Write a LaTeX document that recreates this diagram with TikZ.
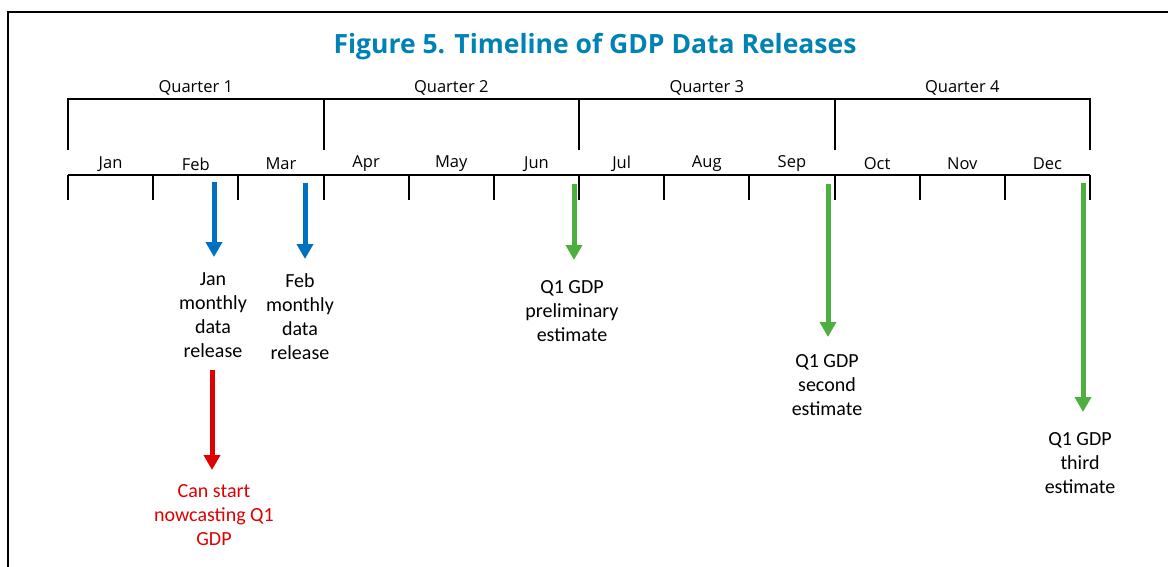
\documentclass[tikz,border=0pt]{standalone}
\usepackage{fontspec}
\setmainfont{Carlito}
\newfontfamily\uifont{Open Sans}
\usetikzlibrary{arrows.meta,positioning}
\definecolor{titleblue}{RGB}{0,130,180}
\definecolor{relblue}{RGB}{0,112,192}
\definecolor{relgreen}{RGB}{76,175,64}
\definecolor{relred}{RGB}{224,0,0}

\begin{document}
\begin{tikzpicture}[x=1pt,y=-1pt,
  tick/.style={line width=2pt},
  mon/.style={font=\uifont\fontsize{16.5}{19}\selectfont, inner sep=0pt},
  note/.style={font=\fontsize{20}{24}\selectfont, align=center, inner sep=0pt, anchor=north},
  rel/.style={line width=5pt, -{Triangle[width=16pt,length=15pt]}}]
\useasboundingbox (0,0) rectangle (1168,567);
\draw[tick] (8,567) -- (8,12) -- (1168,12);
\node[font=\uifont\bfseries\fontsize{26.5}{30}\selectfont, text=titleblue] (title) at (595,47) {Figure 5. Timeline of GDP Data Releases};

% quarters
\draw[tick] (68,150) -- (68,99) -- (1090,99) -- (1090,150);
\foreach \q in {1,2,3} \draw[tick] ({68+255.5*\q},99) -- ++(0,51);
\foreach \q in {1,...,4} \node[mon] (q\q) at ({68+255.5*(\q-0.5)},88) {Quarter \q};

% months
\draw[tick] (68,175) -- (1090,175);
\foreach \m in {0,...,12} \draw[tick] ({68+85.17*\m},175) -- ++(0,25);
\foreach \name [count=\i] in {Jan,Feb,Mar,Apr,May,Jun,Jul,Aug,Sep,Oct,Nov,Dec}
  \node[mon] (m\i) at ({68+85.17*(\i-0.5)},164) {\name};

% releases
\coordinate (janrel) at (214,182);
\coordinate (febrel) at (305,183);
\coordinate (prelim) at (574,184);
\coordinate (second) at (828,184);
\coordinate (third) at (1083,183);
\node[note] (jantxt) at (213,272) {Jan\\monthly\\data\\release};
\node[note] (febtxt) at (300,273) {Feb\\monthly\\data\\release};
\node[note] (pretxt) at (572,280) {Q1 GDP\\preliminary\\estimate};
\node[note] (sectxt) at (827,354) {Q1 GDP\\second\\estimate};
\node[note] (thitxt) at (1080,432) {Q1 GDP\\third\\estimate};
\node[note, text=relred] (nowtxt) at (214,484) {Can start\\nowcasting Q1\\GDP};

\draw[rel, relblue, shorten >=15pt] (janrel) -- (janrel |- jantxt.north);
\draw[rel, relblue, shorten >=14pt] (febrel) -- (febrel |- febtxt.north);
\draw[rel, relgreen, shorten >=20pt] (prelim) -- (prelim |- pretxt.north);
\draw[rel, relgreen, shorten >=17pt] (second) -- (second |- sectxt.north);
\draw[rel, relgreen, shorten >=20pt] (third) -- (third |- thitxt.north);
\draw[rel, relred, shorten <=13pt, shorten >=14pt] (212,0 |- jantxt.south) -- (212,0 |- nowtxt.north);
\end{tikzpicture}
\end{document}
